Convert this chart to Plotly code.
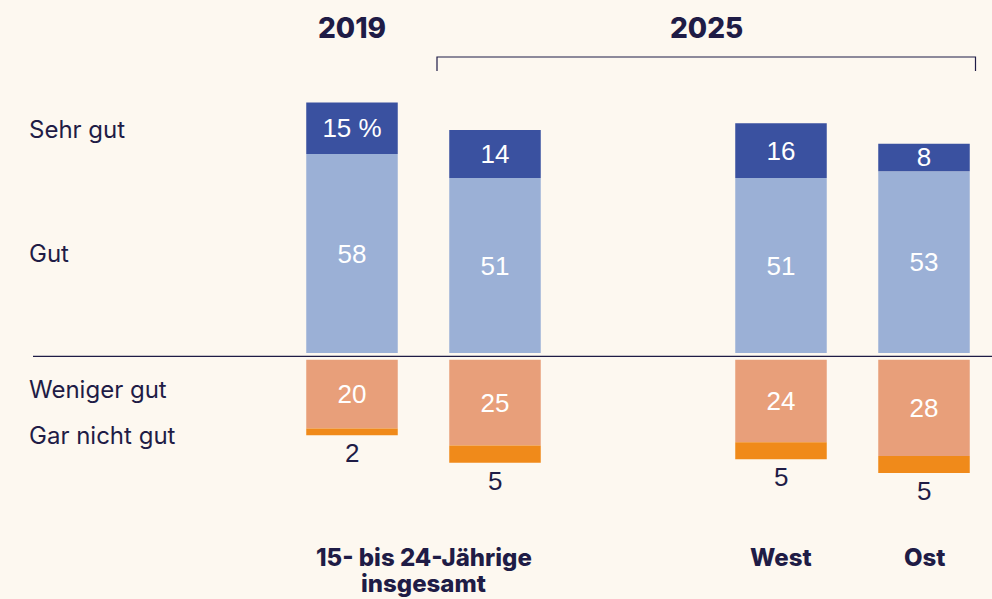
import plotly.graph_objects as go

# ---- data ----
positions = [0, 1, 3, 4]
sehr_gut = [15, 14, 16, 8]
gut = [58, 51, 51, 53]
weniger_gut = [20, 25, 24, 28]
gar_nicht_gut = [2, 5, 5, 5]
sehr_gut_text = ["15 %", "14", "16", "8"]
row_labels = ["Sehr gut", "Gut", "Weniger gut", "Gar nicht gut"]
group_labels = ["15- bis 24-Jährige<br>insgesamt", "West", "Ost"]
year_labels = ["2019", "2025"]

# ---- style ----
BG = "#fdf8f0"
INK = "#1f1c46"
C_SEHR = "#3a51a0"
C_GUT = "#9bb0d6"
C_WEN = "#e89f7a"
C_GAR = "#f08a1a"
NEG_GAP = 2  # visual gap between positive and negative stacks
W, H = 992, 599
BAR_W = 0.64
FONT = "Inter"
VFONT = "Liberation Sans"
VSIZE = 26

fig = go.Figure()

common = dict(width=BAR_W, marker_line_width=0, textangle=0, constraintext="none",
              textposition="inside", insidetextanchor="middle",
              textfont=dict(color="white", size=VSIZE, family=VFONT))

fig.add_bar(x=positions, y=gut, base=[0] * 4, marker_color=C_GUT,
            text=[str(v) for v in gut], **common)
fig.add_bar(x=positions, y=sehr_gut, base=gut, marker_color=C_SEHR,
            text=sehr_gut_text, **common)
fig.add_bar(x=positions, y=[-v for v in weniger_gut], base=[-NEG_GAP] * 4,
            marker_color=C_WEN, text=[str(v) for v in weniger_gut], **common)
fig.add_bar(x=positions, y=[-v for v in gar_nicht_gut],
            base=[-NEG_GAP - w for w in weniger_gut], width=BAR_W, marker_color=C_GAR,
            marker_line_width=0, textposition="none")

# values below the "Gar nicht gut" segments
for xp, w, g in zip(positions, weniger_gut, gar_nicht_gut):
    fig.add_annotation(x=xp, y=-NEG_GAP - w - g, xref="x", yref="y", text=str(g),
                       showarrow=False, yanchor="top", yshift=-1,
                       font=dict(color=INK, size=VSIZE, family=VFONT))

# scale: px per unit
ppu = 3.43
y_top = 353 / ppu
y_bot = -(H - 353) / ppu
xpx = 143
x_left = -352 / xpx
x_right = (W - 352) / xpx

fig.update_layout(
    width=W, height=H, margin=dict(l=0, r=0, t=0, b=0),
    paper_bgcolor=BG, plot_bgcolor=BG, barmode="overlay", showlegend=False,
    xaxis=dict(range=[x_left, x_right], visible=False, fixedrange=True),
    yaxis=dict(range=[y_bot, y_top], visible=False, fixedrange=True),
    font=dict(family=FONT, color=INK),
)

def px(x):
    return x / W

def py(y):
    return 1 - y / H

# baseline
fig.add_shape(type="line", xref="paper", yref="y", x0=px(33), x1=1,
              y0=-NEG_GAP / 2, y1=-NEG_GAP / 2, line=dict(color=INK, width=1.3))

# bracket over 2025
fig.add_shape(type="path", xref="paper", yref="paper",
              path=f"M {px(437)},{py(71)} L {px(437)},{py(57)} L {px(975.5)},{py(57)} L {px(975.5)},{py(71)}",
              line=dict(color=INK, width=1.2))

# row labels
row_y = [129, 253, 390, 435]
for lab, yy in zip(row_labels, row_y):
    fig.add_annotation(text=lab, xref="paper", yref="paper", x=px(27), y=py(yy),
                       xanchor="left", yanchor="middle", showarrow=False,
                       font=dict(size=24, color=INK, family=FONT))

# year headers
hfont = dict(size=28, color=INK, family=FONT, weight=800)
fig.add_annotation(text=year_labels[0], x=positions[0], xref="x", xanchor="center",
                   yref="paper", y=py(28), showarrow=False, yanchor="middle", font=hfont)
fig.add_annotation(text=year_labels[1], xref="paper", x=px(706), xanchor="center",
                   yref="paper", y=py(28), showarrow=False, yanchor="middle", font=hfont)

# group labels (each line drawn separately for tight line spacing)
gfont = dict(size=24, color=INK, family=FONT, weight=800)
group_x = [(positions[0] + positions[1]) / 2, positions[2], positions[3]]
for lab, xpos in zip(group_labels, group_x):
    for i, line in enumerate(lab.split("<br>")):
        fig.add_annotation(text=line, x=xpos, xref="x", xanchor="center", yref="paper",
                           y=py(557 + 26 * i), yanchor="middle", showarrow=False,
                           font=gfont)

fig.write_html("out.html", config={"displayModeBar": False},
               post_script="document.body.style.margin='0';document.body.style.overflow='hidden';")
